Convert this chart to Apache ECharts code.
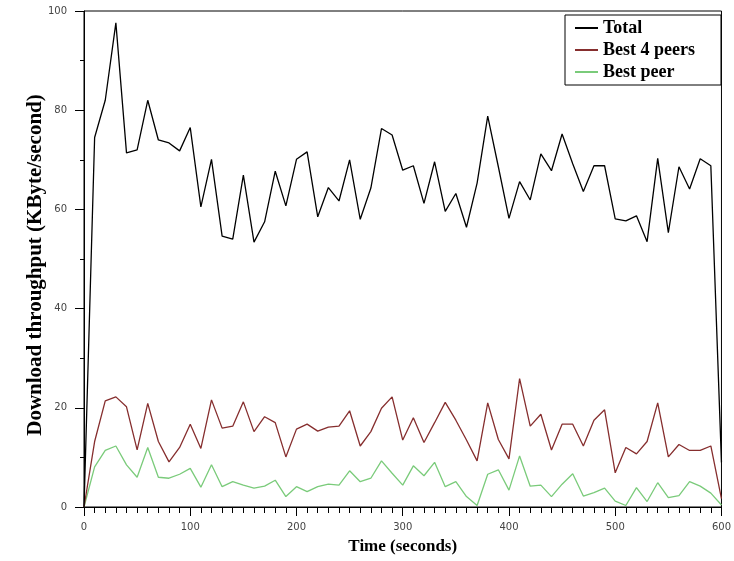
<!DOCTYPE html>
<html>
<head>
<meta charset="utf-8">
<script src="https://cdn.jsdelivr.net/npm/echarts@6/dist/echarts.min.js"></script>
<style>
  html, body { margin: 0; padding: 0; background: #fff; }
  #chart { width: 734px; height: 561px; }
</style>
</head>
<body>
<div id="chart"></div>
<script>
// Sample times (seconds), one sample every 10 s
var seconds = [0, 10, 20, 30, 40, 50, 60, 70, 80, 90,
  100, 110, 120, 130, 140, 150, 160, 170, 180, 190,
  200, 210, 220, 230, 240, 250, 260, 270, 280, 290,
  300, 310, 320, 330, 340, 350, 360, 370, 380, 390,
  400, 410, 420, 430, 440, 450, 460, 470, 480, 490,
  500, 510, 520, 530, 540, 550, 560, 570, 580, 590, 600];

// Download throughput in KByte/second
var total = [0, 74.5, 82, 97.6, 71.4, 72, 82, 74, 73.4, 71.8,
  76.5, 60.5, 70.1, 54.6, 54, 66.9, 53.4, 57.5, 67.7, 60.7,
  70.1, 71.6, 58.5, 64.4, 61.7, 70, 58, 64.3, 76.3, 75,
  67.9, 68.8, 61.2, 69.6, 59.6, 63.2, 56.4, 65.3, 78.8, 68.6,
  58.2, 65.6, 61.9, 71.2, 67.8, 75.2, 69.2, 63.6, 68.8, 68.8,
  58.1, 57.7, 58.7, 53.5, 70.3, 55.3, 68.6, 64.1, 70.2, 68.8, 9];

var best4 = [0, 13.2, 21.4, 22.2, 20.2, 11.5, 20.9, 13.2, 9.1, 12,
  16.7, 11.8, 21.6, 15.9, 16.3, 21.2, 15.2, 18.2, 17, 10.1,
  15.7, 16.7, 15.3, 16.1, 16.3, 19.4, 12.3, 15.2, 19.9, 22.2,
  13.5, 18, 13, 17, 21.1, 17.5, 13.5, 9.3, 21, 13.6,
  9.7, 25.9, 16.3, 18.7, 11.5, 16.7, 16.7, 12.3, 17.5, 19.6,
  6.9, 12, 10.7, 13.2, 21, 10.1, 12.6, 11.4, 11.4, 12.3, 1.7];

var bestPeer = [0, 8.1, 11.4, 12.3, 8.5, 6, 12, 6, 5.8, 6.6,
  7.8, 4, 8.5, 4.1, 5.1, 4.4, 3.8, 4.2, 5.4, 2.1,
  4.1, 3.1, 4.1, 4.6, 4.4, 7.3, 5.1, 5.8, 9.3, 6.8,
  4.4, 8.3, 6.3, 9, 4.1, 5.1, 2.1, 0.3, 6.6, 7.5,
  3.4, 10.3, 4.2, 4.4, 2.1, 4.6, 6.7, 2.2, 2.9, 3.8,
  1.2, 0.3, 3.9, 1.1, 4.9, 1.9, 2.3, 5.1, 4.2, 2.8, 0.4];

var seriesNames = ['Total', 'Best 4 peers', 'Best peer'];
var seriesColors = ['#000000', '#862e2e', '#7acb7a'];

function pairs(xs, ys) {
  return xs.map(function (x, i) { return [x, ys[i]]; });
}

var serifFont = '"Liberation Serif", "DejaVu Serif", serif';
var labelFont = '"DejaVu Sans", sans-serif';

var chart = echarts.init(document.getElementById('chart'), null, { renderer: 'canvas' });

var lineSeries = [total, best4, bestPeer].map(function (vals, i) {
  return {
    name: seriesNames[i],
    type: 'line',
    data: pairs(seconds, vals),
    symbol: 'none',
    smooth: false,
    animation: false,
    z: 3 - i,
    lineStyle: { color: seriesColors[i], width: 1.3 },
    itemStyle: { color: seriesColors[i] }
  };
});

chart.setOption({
  backgroundColor: '#ffffff',
  animation: false,
  grid: {
    left: 84, top: 11, width: 641, height: 496,
    show: true, borderColor: '#000', borderWidth: 1, backgroundColor: 'transparent'
  },
  legend: {
    data: seriesNames,
    orient: 'vertical',
    left: 565, top: 15,
    padding: [4, 26, 4, 10],
    icon: 'path://M0,0 L23,0 L23,2 L0,2 Z',
    itemWidth: 23, itemHeight: 18, itemGap: 4,
    itemTextGap: 7,
    backgroundColor: '#fff',
    borderColor: '#000', borderWidth: 1,
    textStyle: {
      fontFamily: serifFont, fontSize: 18, fontWeight: 'bold',
      color: '#000', lineHeight: 18
    }
  },
  xAxis: {
    type: 'value', min: 0, max: 600, interval: 100,
    name: 'Time (seconds)',
    nameLocation: 'middle', nameGap: 31,
    nameTextStyle: { fontFamily: serifFont, fontSize: 17, fontWeight: 'bold', color: '#000' },
    axisLine: { show: true, onZero: false, lineStyle: { color: '#000', width: 1 } },
    axisTick: { show: true, inside: false, length: 9, lineStyle: { color: '#000' } },
    minorTick: { show: true, splitNumber: 10, length: 6, lineStyle: { color: '#000' } },
    axisLabel: { fontFamily: labelFont, fontSize: 10, color: '#444', margin: 15 },
    splitLine: { show: false }, minorSplitLine: { show: false }
  },
  yAxis: {
    type: 'value', min: 0, max: 100, interval: 20,
    name: 'Download throughput (KByte/second)',
    nameLocation: 'middle', nameGap: 38, nameRotate: 90,
    nameMoveOverlap: false,
    nameTextStyle: {
      fontFamily: serifFont, fontSize: 21, fontWeight: 'bold', color: '#000',
      padding: [0, 12, 0, 0]
    },
    axisLine: { show: true, onZero: false, lineStyle: { color: '#000', width: 1 } },
    axisTick: { show: true, inside: false, length: 9, lineStyle: { color: '#000' } },
    minorTick: { show: true, splitNumber: 2, length: 4, lineStyle: { color: '#000' } },
    axisLabel: { fontFamily: labelFont, fontSize: 10, color: '#444', margin: 17 },
    splitLine: { show: false }, minorSplitLine: { show: false }
  },
  series: lineSeries
});
</script>
</body>
</html>
